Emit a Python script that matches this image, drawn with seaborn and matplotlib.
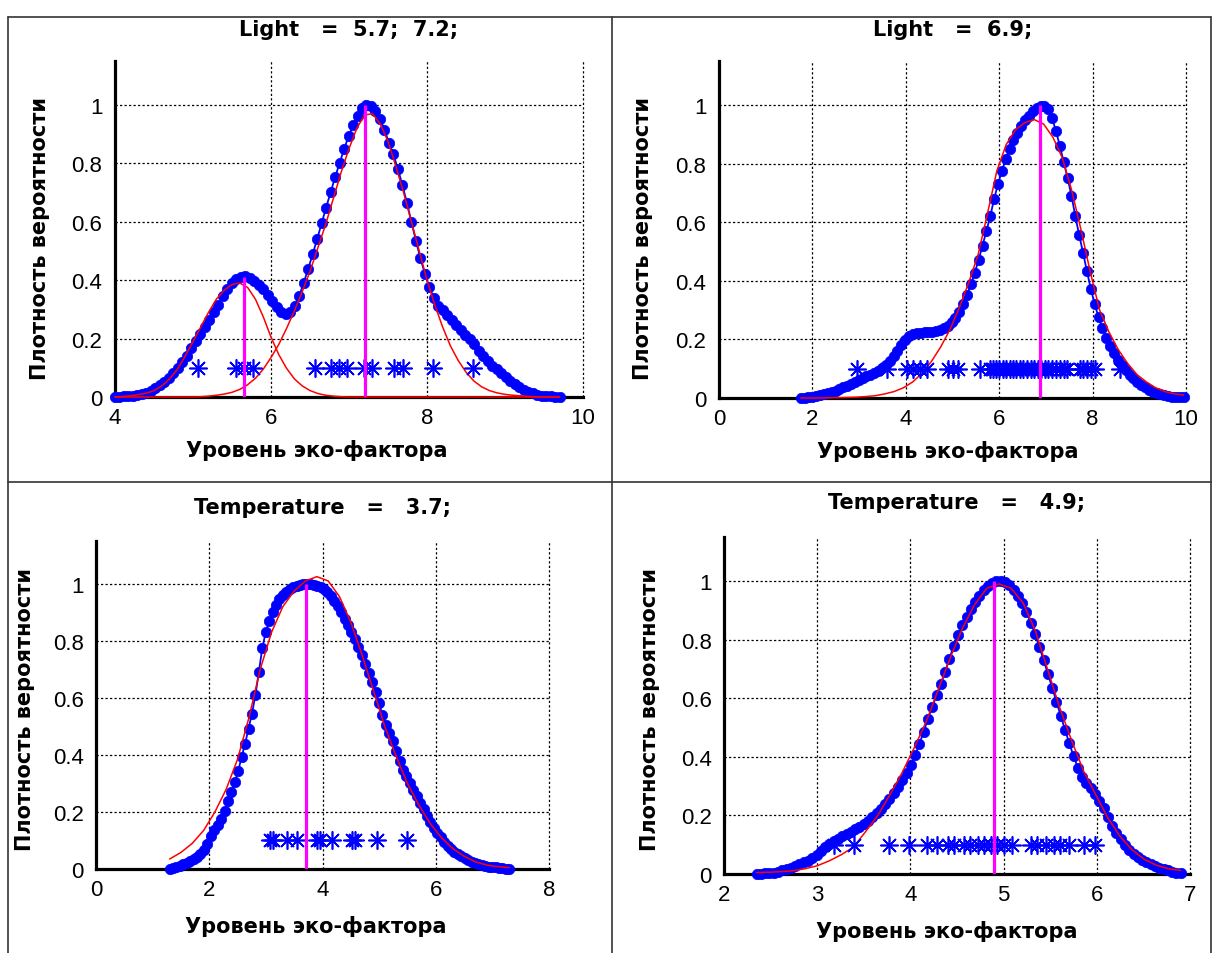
import numpy as np
import seaborn as sns
import matplotlib.pyplot as plt
from matplotlib.lines import Line2D

# ---- Light, two optima ----
light2_x = np.linspace(4.0, 9.7, 100)
light2_kde = [
    0.000, 0.001, 0.002, 0.003, 0.005, 0.008, 0.011, 0.015, 0.022, 0.030,
    0.040, 0.052, 0.066, 0.082, 0.100, 0.120, 0.142, 0.166, 0.191, 0.215,
    0.240, 0.265, 0.290, 0.315, 0.345, 0.370, 0.390, 0.403, 0.411, 0.413,
    0.408, 0.398, 0.385, 0.368, 0.348, 0.328, 0.308, 0.292, 0.285, 0.292,
    0.312, 0.345, 0.390, 0.438, 0.488, 0.540, 0.594, 0.648, 0.700, 0.752,
    0.800, 0.848, 0.892, 0.930, 0.962, 0.988, 1.000, 0.996, 0.980, 0.952,
    0.915, 0.870, 0.830, 0.780, 0.725, 0.665, 0.600, 0.535, 0.475, 0.422,
    0.375, 0.340, 0.312, 0.298, 0.280, 0.262, 0.245, 0.228, 0.212, 0.197,
    0.180, 0.158, 0.140, 0.122, 0.105, 0.095, 0.082, 0.068, 0.055, 0.044,
    0.034, 0.025, 0.018, 0.012, 0.007, 0.004, 0.003, 0.002, 0.001, 0.000,
]
light2_fit_x = np.linspace(4.0, 9.7, 58)
light2_fit1 = [
    0.000, 0.002, 0.004, 0.008, 0.013, 0.022, 0.038, 0.062, 0.095, 0.140,
    0.190, 0.240, 0.290, 0.335, 0.365, 0.385, 0.390, 0.375, 0.335, 0.275,
    0.205, 0.145, 0.098, 0.062, 0.038, 0.022, 0.012, 0.006, 0.003, 0.001,
    0.000, 0.000, 0.000, 0.000, 0.000, 0.000, 0.000, 0.000, 0.000, 0.000,
    0.000, 0.000, 0.000, 0.000, 0.000, 0.000, 0.000, 0.000, 0.000, 0.000,
    0.000, 0.000, 0.000, 0.000, 0.000, 0.000, 0.000, 0.000,
]
light2_fit2 = [
    0.000, 0.000, 0.000, 0.000, 0.000, 0.000, 0.000, 0.000, 0.000, 0.000,
    0.000, 0.001, 0.003, 0.006, 0.010, 0.016, 0.026, 0.042, 0.064, 0.095,
    0.135, 0.180, 0.235, 0.295, 0.360, 0.430, 0.510, 0.590, 0.680, 0.770,
    0.850, 0.920, 0.965, 0.970, 0.935, 0.875, 0.790, 0.700, 0.600, 0.500,
    0.400, 0.315, 0.240, 0.175, 0.125, 0.085, 0.055, 0.035, 0.022, 0.014,
    0.009, 0.006, 0.004, 0.002, 0.001, 0.001, 0.000, 0.000,
]
light2_obs = [5.07, 5.55, 5.65, 5.77, 6.57, 6.77, 6.87, 6.98, 7.19, 7.30,
              7.58, 7.69, 8.08, 8.59]
light2_modes = [5.65, 7.2]
light2_peaks = [0.41, 1.0]

# ---- Light, one optimum ----
light1_x = np.linspace(1.75, 9.95, 100)
light1_kde = [
    0.000, 0.001, 0.002, 0.004, 0.006, 0.009, 0.012, 0.016, 0.020, 0.025,
    0.030, 0.036, 0.042, 0.049, 0.056, 0.062, 0.068, 0.074, 0.079, 0.085,
    0.092, 0.101, 0.112, 0.125, 0.142, 0.162, 0.182, 0.199, 0.210, 0.217,
    0.221, 0.223, 0.224, 0.225, 0.226, 0.228, 0.232, 0.238, 0.246, 0.258,
    0.274, 0.295, 0.322, 0.352, 0.388, 0.428, 0.472, 0.520, 0.570, 0.620,
    0.680, 0.730, 0.775, 0.815, 0.850, 0.880, 0.905, 0.928, 0.948, 0.964,
    0.978, 0.990, 0.996, 0.998, 0.985, 0.955, 0.910, 0.860, 0.805, 0.750,
    0.690, 0.620, 0.555, 0.495, 0.432, 0.372, 0.320, 0.275, 0.238, 0.206,
    0.178, 0.153, 0.131, 0.111, 0.094, 0.080, 0.067, 0.056, 0.046, 0.037,
    0.029, 0.022, 0.016, 0.012, 0.009, 0.007, 0.005, 0.004, 0.003, 0.002,
]
light1_fit_x = np.linspace(1.75, 9.95, 42)
light1_fit = [
    0.000, 0.000, 0.000, 0.001, 0.001, 0.002, 0.003, 0.005, 0.008, 0.014,
    0.022, 0.035, 0.055, 0.085, 0.125, 0.175, 0.235, 0.310, 0.395, 0.490,
    0.630, 0.775, 0.865, 0.915, 0.940, 0.950, 0.935, 0.890, 0.820, 0.710,
    0.575, 0.430, 0.300, 0.225, 0.165, 0.118, 0.080, 0.055, 0.035, 0.022,
    0.014, 0.010,
]
light1_obs = [2.95, 3.59, 4.02, 4.16, 4.30, 4.45, 4.91, 5.02, 5.12, 5.59,
              5.80, 5.86, 5.93, 6.00, 6.08, 6.15, 6.23, 6.30, 6.37, 6.45,
              6.52, 6.60, 6.68, 6.75, 6.83, 6.90, 6.98, 7.05, 7.13, 7.22,
              7.30, 7.38, 7.45, 7.72, 7.80, 7.88, 7.96, 8.05, 8.58]
light1_modes = [6.88]
light1_peaks = [1.0]

# ---- Temperature 3.7 ----
temp1_x = np.linspace(1.3, 7.3, 100)
temp1_kde = [
    0.000, 0.003, 0.007, 0.012, 0.017, 0.022, 0.028, 0.035, 0.043, 0.053,
    0.066, 0.088, 0.115, 0.137, 0.155, 0.177, 0.203, 0.237, 0.270, 0.305,
    0.345, 0.393, 0.440, 0.492, 0.545, 0.610, 0.690, 0.775, 0.830, 0.870,
    0.900, 0.925, 0.945, 0.960, 0.972, 0.980, 0.987, 0.992, 0.996, 0.999,
    1.000, 0.999, 0.997, 0.993, 0.988, 0.981, 0.970, 0.956, 0.940, 0.921,
    0.900, 0.878, 0.855, 0.830, 0.805, 0.778, 0.750, 0.720, 0.688, 0.655,
    0.620, 0.582, 0.540, 0.505, 0.478, 0.448, 0.415, 0.380, 0.348, 0.325,
    0.302, 0.278, 0.255, 0.233, 0.210, 0.186, 0.165, 0.145, 0.127, 0.112,
    0.096, 0.082, 0.070, 0.060, 0.051, 0.044, 0.037, 0.031, 0.025, 0.020,
    0.016, 0.013, 0.010, 0.008, 0.007, 0.006, 0.004, 0.002, 0.001, 0.000,
]
temp1_fit_x = np.linspace(1.3, 7.3, 31)
temp1_fit = [
    0.035, 0.058, 0.090, 0.135, 0.200, 0.280, 0.385, 0.530, 0.700, 0.830,
    0.920, 0.975, 1.010, 1.025, 1.010, 0.955, 0.865, 0.750, 0.625, 0.500,
    0.395, 0.300, 0.225, 0.160, 0.110, 0.072, 0.045, 0.025, 0.014, 0.008,
    0.005,
]
temp1_obs = [3.07, 3.13, 3.37, 3.55, 3.90, 3.96, 4.17, 4.52, 4.57, 4.96, 5.49]
temp1_modes = [3.7]
temp1_peaks = [1.0]

# ---- Temperature 4.9 ----
temp2_x = np.linspace(2.35, 6.9, 100)
temp2_kde = [
    0.000, 0.001, 0.002, 0.003, 0.005, 0.008, 0.012, 0.016, 0.022, 0.028,
    0.034, 0.040, 0.046, 0.055, 0.065, 0.078, 0.091, 0.102, 0.112, 0.120,
    0.128, 0.136, 0.143, 0.152, 0.161, 0.171, 0.182, 0.194, 0.208, 0.222,
    0.238, 0.256, 0.276, 0.297, 0.320, 0.345, 0.372, 0.405, 0.445, 0.485,
    0.530, 0.570, 0.610, 0.648, 0.690, 0.735, 0.778, 0.815, 0.848, 0.878,
    0.905, 0.928, 0.950, 0.968, 0.982, 0.993, 0.999, 1.000, 0.995, 0.985,
    0.970, 0.950, 0.925, 0.893, 0.858, 0.818, 0.775, 0.730, 0.683, 0.636,
    0.588, 0.540, 0.492, 0.446, 0.402, 0.362, 0.330, 0.310, 0.292, 0.274,
    0.250, 0.225, 0.195, 0.165, 0.140, 0.118, 0.098, 0.082, 0.069, 0.058,
    0.049, 0.041, 0.034, 0.027, 0.021, 0.016, 0.012, 0.008, 0.005, 0.003,
]
temp2_fit_x = np.linspace(2.35, 6.9, 36)
temp2_fit = [
    0.005, 0.006, 0.008, 0.011, 0.018, 0.028, 0.045, 0.066, 0.092, 0.145,
    0.200, 0.270, 0.345, 0.430, 0.520, 0.630, 0.740, 0.840, 0.920, 0.975,
    0.990, 0.975, 0.925, 0.830, 0.700, 0.570, 0.455, 0.350, 0.270, 0.190,
    0.128, 0.082, 0.050, 0.030, 0.018, 0.012,
]
temp2_obs = [3.18, 3.40, 3.77, 3.98, 4.18, 4.29, 4.40, 4.47, 4.57, 4.64,
             4.72, 4.79, 4.86, 4.93, 5.00, 5.09, 5.29, 5.36, 5.45, 5.54,
             5.61, 5.70, 5.86, 5.98]
temp2_modes = [4.9]
temp2_peaks = [1.0]

obs_level = 0.1

titles = ["Light   =  5.7;  7.2;", "Light   =  6.9;",
          "Temperature   =   3.7;", "Temperature   =   4.9;"]
xlabel = "Уровень эко-фактора"
ylabel = "Плотность вероятности"
yticks = [0, 0.2, 0.4, 0.6, 0.8, 1]
ytick_labels = ["0", "0.2", "0.4", "0.6", "0.8", "1"]

panels = [
    dict(kx=light2_x, ky=light2_kde, fx=light2_fit_x, fits=[light2_fit1, light2_fit2],
         obs=light2_obs, modes=light2_modes, peaks=light2_peaks, xlim=(4, 10),
         xticks=[4, 6, 8, 10], pos=(115, 62, 583, 398), xl=(0.432, -0.125),
         yl=(-0.139, 0.475), ty=1.095),
    dict(kx=light1_x, ky=light1_kde, fx=light1_fit_x, fits=[light1_fit],
         obs=light1_obs, modes=light1_modes, peaks=light1_peaks, xlim=(0, 10),
         xticks=[0, 2, 4, 6, 8, 10], pos=(719, 62, 1186, 399), xl=(0.49, -0.125),
         yl=(-0.141, 0.475), ty=1.095),
    dict(kx=temp1_x, ky=temp1_kde, fx=temp1_fit_x, fits=[temp1_fit],
         obs=temp1_obs, modes=temp1_modes, peaks=temp1_peaks, xlim=(0, 8),
         xticks=[0, 2, 4, 6, 8], pos=(96, 542, 549, 870), xl=(0.486, -0.14),
         yl=(-0.135, 0.488), ty=1.104),
    dict(kx=temp2_x, ky=temp2_kde, fx=temp2_fit_x, fits=[temp2_fit],
         obs=temp2_obs, modes=temp2_modes, peaks=temp2_peaks, xlim=(2, 7),
         xticks=[2, 3, 4, 5, 6, 7], pos=(724, 538, 1190, 875), xl=(0.479, -0.137),
         yl=(-0.137, 0.49), ty=1.104),
]

sns.set_style("white")
plt.rcParams["font.family"] = ["Liberation Sans", "DejaVu Sans"]
plt.rcParams["text.color"] = "black"
plt.rcParams["axes.labelcolor"] = "black"

W, H = 1213, 954
fig = plt.figure(figsize=(W / 100, H / 100), dpi=100)
lab_font = dict(family="DejaVu Sans", fontweight="bold", fontsize=15, color="black")

for p, title in zip(panels, titles):
    l, t, r, b = p["pos"]
    ax = fig.add_axes([l / W, 1 - b / H, (r - l) / W, (b - t) / H])

    sns.lineplot(x=p["kx"], y=p["ky"], ax=ax, estimator=None, sort=False,
                 color="#0000ff", linewidth=1.3, marker="o", markersize=7.5,
                 markeredgecolor="#0000ff", markeredgewidth=0.5,
                 clip_on=False, zorder=3)
    for fit in p["fits"]:
        sns.lineplot(x=p["fx"], y=fit, ax=ax, estimator=None, sort=False,
                     color="#ff0000", linewidth=1.1, clip_on=False, zorder=4)
    sns.lineplot(x=p["obs"], y=[obs_level] * len(p["obs"]), ax=ax,
                 estimator=None, sort=False, linestyle="", marker=(8, 2, 0),
                 markersize=13, color="#0000ff", markeredgecolor="#0000ff",
                 markeredgewidth=1.2, zorder=5)
    ax.vlines(p["modes"], 0, p["peaks"], colors="#ff00ff", linewidth=2.3, zorder=6)

    ax.set_xlim(*p["xlim"])
    ax.set_ylim(0, 1.15)
    ax.set_xticks(p["xticks"])
    ax.set_xticklabels([str(v) for v in p["xticks"]])
    ax.set_yticks(yticks)
    ax.set_yticklabels(ytick_labels)
    ax.tick_params(direction="in", length=4, width=1.6, color="black",
                   labelsize=16, labelcolor="black")
    ax.tick_params(axis="y", pad=9)
    ax.tick_params(axis="x", pad=7)
    ax.grid(True, color="black", linestyle=(0, (1.8, 1.8)), linewidth=0.9)
    for gl in ax.get_xgridlines() + ax.get_ygridlines():
        gl.set_clip_on(False)
    ax.set_axisbelow(True)
    for side in ["top", "right"]:
        ax.spines[side].set_visible(False)
    for side in ["left", "bottom"]:
        ax.spines[side].set_linewidth(2.3)
        ax.spines[side].set_color("black")
    ax.patch.set_alpha(0)

    ax.set_xlabel(xlabel, **lab_font)
    ax.set_ylabel(ylabel, **lab_font)
    ax.xaxis.set_label_coords(*p["xl"])
    ax.yaxis.set_label_coords(*p["yl"])
    ax.set_title(title, y=p["ty"], pad=0, va="center", **lab_font)

# table frame around the four panels
frame = [((8, 18), (8, 954)), ((612, 18), (612, 954)), ((1211, 18), (1211, 954)),
         ((8, 18), (1211, 18)), ((8, 483), (1211, 483))]
for (x0, y0), (x1, y1) in frame:
    fig.add_artist(Line2D([x0 / W, x1 / W], [1 - y0 / H, 1 - y1 / H],
                          transform=fig.transFigure, color="#333333", linewidth=1.2))

fig.savefig("out.png", dpi=100, facecolor="white")
